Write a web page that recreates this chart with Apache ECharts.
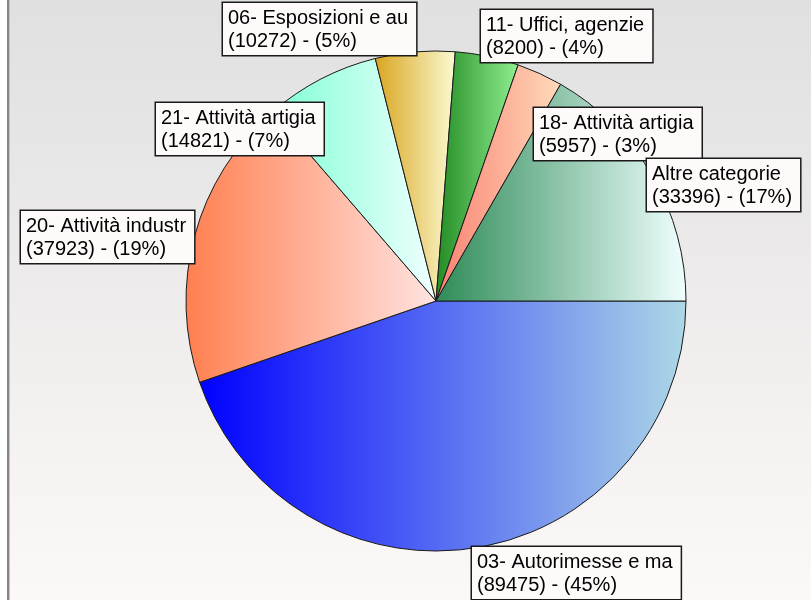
<!DOCTYPE html>
<html>
<head>
<meta charset="utf-8">
<script src="https://cdn.jsdelivr.net/npm/echarts@6/dist/echarts.min.js"></script>
<style>
  html, body { margin: 0; padding: 0; background: #ffffff; }
  #chart { width: 811px; height: 600px; }
</style>
</head>
<body>
<div id="chart"></div>
<script>
// ---- data ----
const categories = [
  '03- Autorimesse e ma',
  '20- Attività industr',
  '21- Attività artigia',
  '06- Esposizioni e au',
  '11- Uffici, agenzie',
  '18- Attività artigia',
  'Altre categorie'
];
const values = [89475, 37923, 14821, 10272, 8200, 5957, 33396];

// ---- styles (kept apart from the data) ----
const gradientStops = [
  ['#0000ff', '#add8e6'],
  ['#ff7f50', '#ffe4e1'],
  ['#7fffd4', '#f0ffff'],
  ['#daa520', '#fafad2'],
  ['#228b22', '#90ee90'],
  ['#fa8072', '#ffdab9'],
  ['#2e8b57', '#f0ffff']
];
// top-left corners of the label boxes
const labelBoxes = [
  [472, 547],
  [21, 211],
  [156, 103],
  [223, 3],
  [481, 10],
  [534, 108],
  [647, 159]
];

const chart = echarts.init(document.getElementById('chart'), null, { renderer: 'canvas' });

const seriesData = categories.map((name, i) => ({
  name: name,
  value: values[i],
  itemStyle: {
    color: new echarts.graphic.LinearGradient(0, 0, 1, 0, [
      { offset: 0, color: gradientStops[i][0] },
      { offset: 1, color: gradientStops[i][1] }
    ])
  }
}));

chart.setOption({
  animation: false,
  backgroundColor: new echarts.graphic.LinearGradient(0, 0, 0, 1, [
    { offset: 0, color: '#e0e0e0' },
    { offset: 1, color: '#fcf8f7' }
  ]),
  graphic: [
    { type: 'rect', left: 0, top: 0, shape: { width: 7, height: 600 }, style: { fill: '#ffffff' }, silent: true },
    { type: 'rect', left: 7, top: 0, shape: { width: 2, height: 600 }, style: { fill: '#858585' }, silent: true },
    { type: 'rect', left: 9, top: 0, shape: { width: 1, height: 600 }, style: { fill: '#c4c4c4' }, silent: true }
  ],
  series: [{
    type: 'pie',
    center: [436, 301],
    radius: 250,
    startAngle: 0,
    clockwise: true,
    avoidLabelOverlap: false,
    percentPrecision: 0,
    data: seriesData,
    itemStyle: { borderColor: '#1a1a1a', borderWidth: 1 },
    labelLine: { show: false },
    label: {
      show: true,
      position: 'outside',
      formatter: p => p.name + '\n(' + p.value + ') - (' + p.percent + '%)',
      fontFamily: 'Liberation Sans, Arial, sans-serif',
      fontSize: 20,
      lineHeight: 23,
      color: '#000000',
      backgroundColor: '#fffafa',
      borderColor: '#1a1a1a',
      borderWidth: 1.5,
      padding: [4, 8, 2, 5],
      align: 'left'
    },
    labelLayout: function (params) {
      const b = labelBoxes[params.dataIndex];
      return { x: b[0], y: b[1], align: 'left', verticalAlign: 'top', hideOverlap: false };
    },
    emphasis: { disabled: true }
  }]
});
</script>
</body>
</html>
